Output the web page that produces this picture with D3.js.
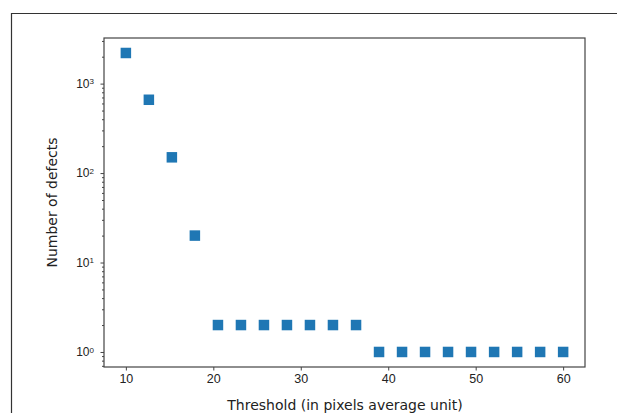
<!DOCTYPE html>
<html>
<head>
<meta charset="utf-8">
<script src="https://cdn.jsdelivr.net/npm/d3@7"></script>
<style>
  body { margin: 0; background: #fff; }
  svg { display: block; font-family: "DejaVu Sans", sans-serif; }
</style>
</head>
<body>
<div id="chart"></div>
<script>
// Данные
const thresholds = [10, 12.63, 15.26, 17.89, 20.53, 23.16, 25.79, 28.42, 31.05, 33.68,
                    36.32, 38.95, 41.58, 44.21, 46.84, 49.47, 52.11, 54.74, 57.37, 60];
const defects = [2200, 660, 150, 20, 2, 2, 2, 2, 2, 2,
                 2, 1, 1, 1, 1, 1, 1, 1, 1, 1];
const xTicks = [10, 20, 30, 40, 50, 60];
const yTicks = [1, 10, 100, 1000];

const width = 617, height = 413;
const margin = { left: 104, right: 32, top: 38, bottom: 46 };

const svg = d3.select("#chart").append("svg")
    .attr("width", width)
    .attr("height", height);

// внешняя рамка (обрезана справа и снизу)
svg.append("path")
    .attr("d", `M11.5,${height} V13.5 H${width}`)
    .attr("fill", "none")
    .attr("stroke", "#333")
    .attr("stroke-width", 1.2);

const x = d3.scaleLinear()
    .domain([7.5, 62.5])
    .range([margin.left, width - margin.right]);

const y = d3.scaleLog()
    .domain([Math.pow(10, -0.168), Math.pow(10, 3.51)])
    .range([height - margin.bottom, margin.top]);

const g = svg.append("g");

// Ось X
const xAxis = g.append("g")
    .attr("transform", `translate(0,${height - margin.bottom})`)
    .call(d3.axisBottom(x).tickValues(xTicks).tickSize(3.5).tickPadding(4).tickFormat(d3.format("d")));

// Ось Y: основные и второстепенные деления
const minor = [];
for (let e = -1; e <= 3; e++) {
    for (let k = 2; k <= 9; k++) {
        const v = k * Math.pow(10, e);
        if (v > y.domain()[0] && v < y.domain()[1]) minor.push(v);
    }
}
g.append("g")
    .attr("transform", `translate(${margin.left},0)`)
    .call(d3.axisLeft(y).tickValues(minor).tickSize(2).tickFormat(""));

const yAxis = g.append("g")
    .attr("transform", `translate(${margin.left},0)`)
    .call(d3.axisLeft(y).tickValues(yTicks).tickSize(3.5).tickPadding(5).tickFormat(""));

yAxis.selectAll(".tick").each(function (d) {
    const t = d3.select(this).append("text")
        .attr("x", -10)
        .attr("dy", "0.32em")
        .attr("text-anchor", "end")
        .attr("fill", "#222")
        .style("font-size", "12px");
    t.append("tspan").text("10");
    t.append("tspan")
        .attr("dy", "-0.45em")
        .style("font-size", "8px")
        .text(Math.round(Math.log10(d)));
});

g.selectAll(".domain").remove();
g.selectAll(".tick line").attr("stroke", "#444");
xAxis.selectAll("text").attr("fill", "#222").style("font-size", "12.5px");

// Рамка области построения
svg.append("rect")
    .attr("x", margin.left)
    .attr("y", margin.top)
    .attr("width", width - margin.left - margin.right)
    .attr("height", height - margin.top - margin.bottom)
    .attr("fill", "none")
    .attr("stroke", "#444")
    .attr("stroke-width", 1.2);

// Маркеры-квадраты
const s = 10.5;
svg.append("g").selectAll("rect")
    .data(thresholds.map((t, i) => ({ t, v: defects[i] })))
    .enter()
    .append("rect")
    .attr("x", d => x(d.t) - s / 2)
    .attr("y", d => y(d.v) - s / 2)
    .attr("width", s)
    .attr("height", s)
    .attr("fill", "#1f77b4");

// Подписи осей
svg.append("text")
    .attr("x", 345)
    .attr("y", 410)
    .attr("text-anchor", "middle")
    .attr("fill", "#222")
    .style("font-size", "14px")
    .text("Threshold (in pixels average unit)");

svg.append("text")
    .attr("transform", `translate(57,${(margin.top + height - margin.bottom) / 2}) rotate(-90)`)
    .attr("text-anchor", "middle")
    .attr("fill", "#222")
    .style("font-size", "14px")
    .text("Number of defects");
</script>
</body>
</html>
